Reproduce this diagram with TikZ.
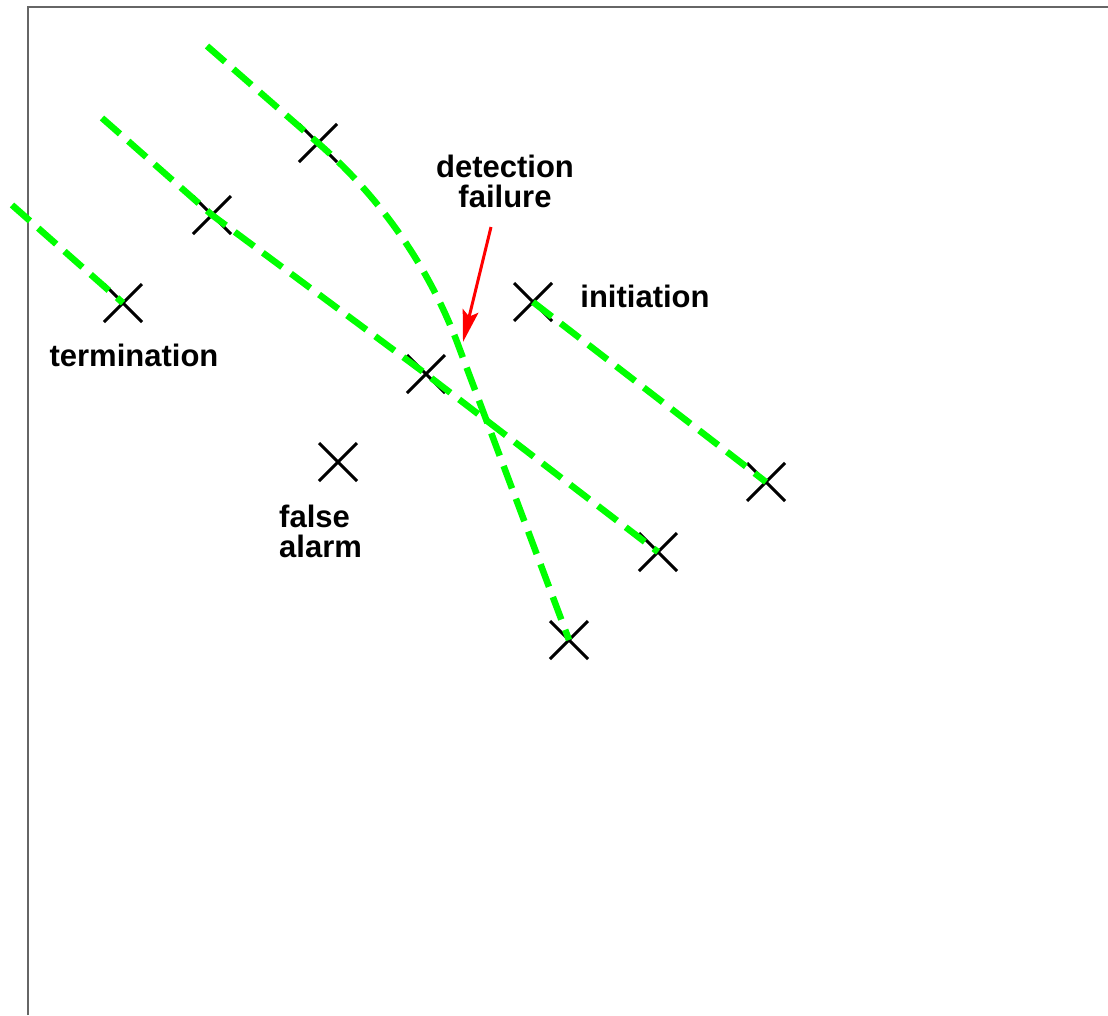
\documentclass[tikz,border=0pt]{standalone}
\usepackage{fontspec}
\setmainfont{Liberation Sans}
\usetikzlibrary{shapes.misc,arrows.meta}
\begin{document}
\begin{tikzpicture}[x=1pt, y=-1pt,
    hit/.style={draw, cross out, line width=3pt, minimum size=35pt, inner sep=0pt},
    track/.style={draw=green, line width=6.5pt, dash pattern=on 24pt off 11pt},
    lbl/.style={font=\fontsize{31}{30}\selectfont\bfseries, inner sep=0pt, align=center}]
    \useasboundingbox (0,0) rectangle (1108,1015);
    \draw[gray!80!black, line width=1.5pt] (28,1015) -- (28,7) -- (1108,7);

    % detections
    \node (a) [hit] at (318,143) {};
    \node (b) [hit] at (212,215) {};
    \node (c) [hit] at (123,303) {};
    \node (d) [hit] at (426,374) {};
    \node (e) [hit] at (533,302) {};
    \node (f) [hit] at (338,462) {};
    \node (g) [hit] at (766,482) {};
    \node (h) [hit] at (658,552) {};
    \node (i) [hit] at (569,640) {};

    \coordinate (s1) at (207,46);
    \coordinate (s2) at (102,118);
    \coordinate (s3) at (12,205);
    \coordinate (bend) at (460,350);

    % tracks
    \draw[track] (s1) -- (a.center) .. controls (382,199) and (431,270) .. (bend) -- (i.center);
    \draw[track] (s2) -- (b.center) -- (d.center) -- (h.center);
    \draw[track] (s3) -- (c.center);
    \draw[track] (e.center) -- (g.center);

    % labels
    \node (dfail) [lbl, anchor=base] at (505,207) {detection\\failure};
    \node (init) [lbl, anchor=base] at (645,307) {initiation};
    \node (term) [lbl, anchor=base] at (134,366) {termination};
    \node (fa) [lbl, anchor=base west, align=left] at (279,557) {false\\alarm};

    \coordinate (tail) at (491,227);
    \coordinate (tip) at (463,342);
    \draw[red, line width=3pt, -{Stealth[length=32pt, width=16pt, inset=6pt]}] (tail) -- (tip);
\end{tikzpicture}
\end{document}
